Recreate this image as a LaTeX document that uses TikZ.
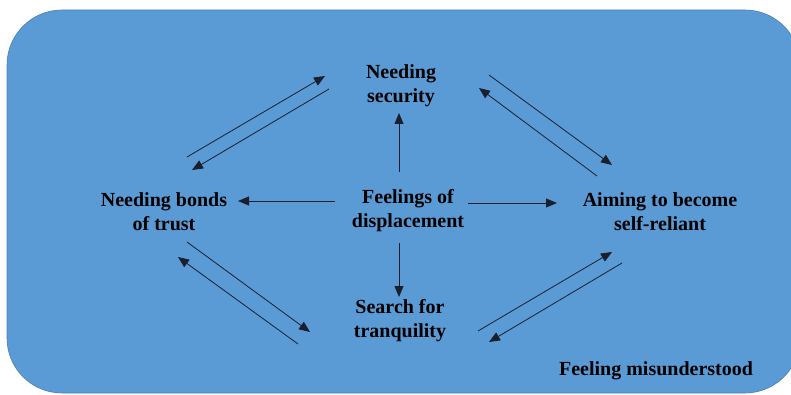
\documentclass[tikz,border=0pt]{standalone}
\usepackage{fontspec}
\setmainfont{Liberation Serif}
\usetikzlibrary{arrows.meta}
\definecolor{panelblue}{HTML}{5B9BD5}
\definecolor{paneledge}{HTML}{4A7EAE}
\definecolor{linkcol}{HTML}{1A1F2E}
\begin{document}
\begin{tikzpicture}[x=1pt,y=-1pt,
  label/.style={font=\bfseries\fontsize{20}{24}\selectfont, align=center, inner sep=0pt, text=black},
  link/.style={draw=linkcol, line width=0.8pt, -{Triangle[length=11pt,width=9pt]}}]
  \useasboundingbox (0,0) rectangle (791,395);
  \begin{scope}
    \clip (0,0) rectangle (791,395);
    \draw[fill=panelblue, draw=paneledge, line width=0.6pt, rounded corners=55pt]
      (7,10) rectangle (800,393);
  \end{scope}

  % concept labels
  \node[label] (sec)  at (401,86)  {Needing\\security};
  \node[label] (disp) at (408,211) {Feelings of\\displacement};
  \node[label] (trust) at (164,212) {Needing bonds\\of trust};
  \node[label] (self) at (660,212) {Aiming to become\\self-reliant};
  \node[label] (tranq) at (400,321) {Search for\\tranquility};
  \node[label] (mis) at (656,371) {Feeling misunderstood};

  % arrow end points
  \coordinate (up0) at (399,172);  \coordinate (up1) at (399,113);
  \coordinate (dn0) at (399,243);  \coordinate (dn1) at (399,297);
  \coordinate (lf0) at (335,201);  \coordinate (lf1) at (238,201);
  \coordinate (rt0) at (468,203);  \coordinate (rt1) at (557,203);

  \coordinate (tlA0) at (187,157); \coordinate (tlA1) at (325,76);
  \coordinate (tlB0) at (329,89);  \coordinate (tlB1) at (192,170);
  \coordinate (trA0) at (489,75);  \coordinate (trA1) at (612,165);
  \coordinate (trB0) at (597,176); \coordinate (trB1) at (479,88);
  \coordinate (blA0) at (187,242); \coordinate (blA1) at (310,332);
  \coordinate (blB0) at (298,344); \coordinate (blB1) at (178,257);
  \coordinate (brA0) at (478,331); \coordinate (brA1) at (612,252);
  \coordinate (brB0) at (622,263); \coordinate (brB1) at (489,342);

  % from the centre outwards
  \draw[link] (up0) -- (up1);
  \draw[link] (dn0) -- (dn1);
  \draw[link] (lf0) -- (lf1);
  \draw[link] (rt0) -- (rt1);

  % paired links around the ring
  \draw[link] (tlA0) -- (tlA1);
  \draw[link] (tlB0) -- (tlB1);
  \draw[link] (trA0) -- (trA1);
  \draw[link] (trB0) -- (trB1);
  \draw[link] (blA0) -- (blA1);
  \draw[link] (blB0) -- (blB1);
  \draw[link] (brA0) -- (brA1);
  \draw[link] (brB0) -- (brB1);
\end{tikzpicture}
\end{document}
